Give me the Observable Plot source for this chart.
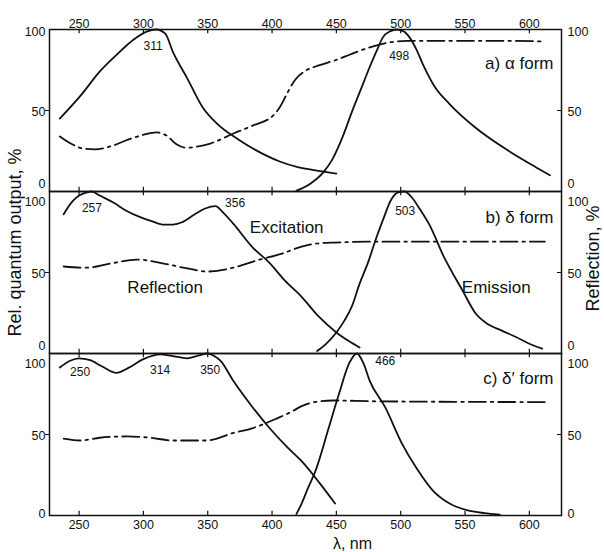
<!DOCTYPE html>
<html><head><meta charset="utf-8">
<script src="https://cdn.jsdelivr.net/npm/d3@7"></script>
<script src="https://cdn.jsdelivr.net/npm/@observablehq/plot@0.6"></script>
<style>body{margin:0;background:#fff} svg{display:block}</style>
</head><body><div id="chart"></div>
<script>
const panels = ["a", "b", "c"];
const formLabels = ["a) α form", "b) δ form", "c) δ′ form"];
const formLabelY = [79, 84, 84.6];
const xTicks = [250, 300, 350, 400, 450, 500, 550, 600];
const yTicks = [0, 50, 100];

// panel a (α form)
const excA = [[235,45],[251,59],[266,74],[280,85],[292,93.5],[302,98.5],[310,100],[317,97.5],[323,86],[334,70],[346,52],[357,42],[375,31.5],[396,22],[406,18.5],[420,15],[440,12.3],[450,11]];
const emA = [[419,0.5],[430,5],[440,12],[447,20],[455,34],[462,49],[469,63],[476,77],[482,88],[486,95],[492,99],[497,100],[502,99],[507,95],[512,88],[517,79],[527,64],[538,54],[558,39.5],[584,25],[605,15],[616,10]];
const refA = [[235,34],[245,29],[253,26.5],[262,26],[275,28],[288,32],[300,35],[310,36.5],[318,34.5],[326,29],[333,27],[340,27.5],[352,29.6],[370,35.8],[385,40.7],[401,47],[406,52],[412,61],[418,69],[425,74],[437,78],[449,81],[462,85],[476,89],[491,92],[505,93],[540,93],[580,93],[612,92.6]];

// panel b (δ form)
const excB = [[238,86],[245,94],[250,97.5],[256,99.5],[260,100],[266,97.5],[277,93],[287,88],[298,84],[307,81.5],[316,79.5],[323,79.6],[330,81],[340,86],[348,89.5],[356,91],[362,87],[370,80],[385,65.4],[398,56],[410,45],[423,35],[436,23],[450,13],[460,7.5],[468,3.7]];
const emB = [[435,1.5],[442,6],[450,13],[456,20],[462,29],[468,43],[475,57],[480,69],[486,82],[493,95.5],[498,99.5],[503,100],[509,96],[515,89],[522,80],[534,59],[548,39],[558,25],[568,18],[579,14],[590,10],[600,6],[610,3]];
const refB = [[238,53.7],[256,53],[274,55.5],[295,58],[313,56],[331,53],[350,50.6],[370,53],[388,57.4],[409,62],[423,66],[436,68],[449,68.5],[475,69],[540,69],[612,69]];

// panel c (δ' form)
const excC = [[235,91.4],[243,95.5],[250,97],[258,96],[268,92],[279,88],[288,91],[300,96.5],[313,99.4],[322,98.5],[334,97],[342,98.5],[350,100],[355,98.5],[360,95.5],[370,83],[385,66.7],[398,54],[412,42],[423,33.5],[437,20],[449,7.4]];
const emC = [[419,1],[423,7.4],[428,17],[434,28],[444,54],[452,75],[460,94],[466,100],[471,94],[476,83],[488,66.7],[501,44.4],[512,29.6],[525,15.4],[538,7.4],[553,3],[565,1.5],[577,0.6]];
const refC = [[238,47.5],[251,46.3],[266,48],[287,48.8],[305,48],[323,46.3],[349,46.3],[370,51],[385,54],[404,60],[415,64],[423,67.5],[433,70],[447,71],[480,70.5],[612,70]];

// peak annotations [panel, nm, value, text]
const peakLabels = [["a",307.5,89.5,"311"],["a",498.8,83.3,"498"],["b",260,90,"257"],["b",371.3,93,"356"],["b",503.5,87.6,"503"],["c",250.8,88.3,"250"],["c",313,89.5,"314"],["c",351.9,89.5,"350"],["c",488,95,"466"]];
const curveLabels = [["b",411.4,77.8,"Excitation"],["b",316.9,40.7,"Reflection"],["b",574.3,40.7,"Emission"]];

const toRows = (arr, panel, series) => arr.map(([nm, v]) => ({panel, series, nm, v}));
const solid = [
  ...toRows(excA,"a","exc"), ...toRows(emA,"a","em"),
  ...toRows(excB,"b","exc"), ...toRows(emB,"b","em"),
  ...toRows(excC,"c","exc"), ...toRows(emC,"c","em")
];
const dashed = [...toRows(refA,"a","ref"), ...toRows(refB,"b","ref"), ...toRows(refC,"c","ref")];

const tickRows = panels.flatMap(p => xTicks.map(x => ({panel: p, x})));
const yLabelRows = panels.flatMap(p => yTicks.map(v => ({panel: p, v})));
const nudges = [
  [r => r.v === 100 && r.panel === "a", 2],
  [r => r.v === 100 && r.panel !== "a", 10],
  [r => r.v === 50, 1],
  [r => r.v === 0 && r.panel !== "c", -8],
  [r => r.v === 0 && r.panel === "c", -2]
];
const yLabelMarks = [];
for (const [test, dy] of nudges) {
  const rows = yLabelRows.filter(test);
  yLabelMarks.push(Plot.text(rows, {y: "v", fy: "panel", text: d => String(d.v), frameAnchor: "left", textAnchor: "end", dx: -4, dy, fontSize: 12.5}));
  yLabelMarks.push(Plot.text(rows, {y: "v", fy: "panel", text: d => String(d.v), frameAnchor: "right", textAnchor: "start", dx: 6, dy, fontSize: 12.5}));
}

const ink = "#111";
const chart = Plot.plot({
  width: 604, height: 552,
  marginLeft: 49, marginRight: 43, marginTop: 29, marginBottom: 37,
  style: {fontFamily: "'Liberation Sans', Arial, sans-serif", fontSize: "12.5px", color: ink, background: "#fff"},
  x: {domain: [227, 625], axis: null},
  y: {domain: [0, 100], axis: null},
  fy: {domain: panels, padding: 0, axis: null},
  marks: [
    Plot.frame({stroke: ink, strokeWidth: 1.5}),
    Plot.ruleX(tickRows, {x: "x", fy: "panel", y1: 0, y2: 2.6, stroke: ink, strokeWidth: 1.2}),
    Plot.ruleX(tickRows, {x: "x", fy: "panel", y1: 97.4, y2: 100, stroke: ink, strokeWidth: 1.2}),
    Plot.axisY({anchor: "left", ticks: [50], tickSize: 4, tickFormat: () => "", label: null, stroke: ink}),
    Plot.axisY({anchor: "right", ticks: [50], tickSize: -5, tickFormat: () => "", label: null, stroke: ink}),
    Plot.text(xTicks, {x: d => d, fy: () => "a", frameAnchor: "top", dy: -10, fontSize: 12.5}),
    Plot.text(xTicks, {x: d => d, fy: () => "c", frameAnchor: "bottom", dy: 13, fontSize: 12.5}),
    ...yLabelMarks,
    Plot.line(dashed, {x: "nm", y: "v", z: "series", fy: "panel", curve: "monotone-x", stroke: ink, strokeWidth: 1.8, strokeDasharray: "17,5,2.5,5"}),
    Plot.line(solid, {x: "nm", y: "v", z: "series", fy: "panel", curve: "monotone-x", stroke: ink, strokeWidth: 1.8}),
    Plot.text(peakLabels, {x: d => d[1], y: d => d[2], fy: d => d[0], text: d => d[3], fontSize: 12, letterSpacing: 1}),
    Plot.text(curveLabels, {x: d => d[1], y: d => d[2], fy: d => d[0], text: d => d[3], fontSize: 17}),
    Plot.text(formLabels, {y: (d, i) => formLabelY[i], fy: (d, i) => panels[i], text: d => d, frameAnchor: "right", textAnchor: "end", dx: -8, fontSize: 17}),
    Plot.text(["Rel. quantum output, %"], {fy: () => "b", frameAnchor: "left", textAnchor: "middle", dx: -34, dy: -30, rotate: -90, fontSize: 18, letterSpacing: 1, wordSpacing: 9}),
    Plot.text(["Reflection, %"], {fy: () => "b", frameAnchor: "right", textAnchor: "middle", dx: 32, dy: -14, rotate: -90, fontSize: 18}),
    Plot.text(["λ, nm"], {fy: () => "c", frameAnchor: "bottom", dx: 47, dy: 33, lineAnchor: "bottom", fontSize: 16})
  ]
});
document.getElementById("chart").append(chart);
</script>
</body></html>
